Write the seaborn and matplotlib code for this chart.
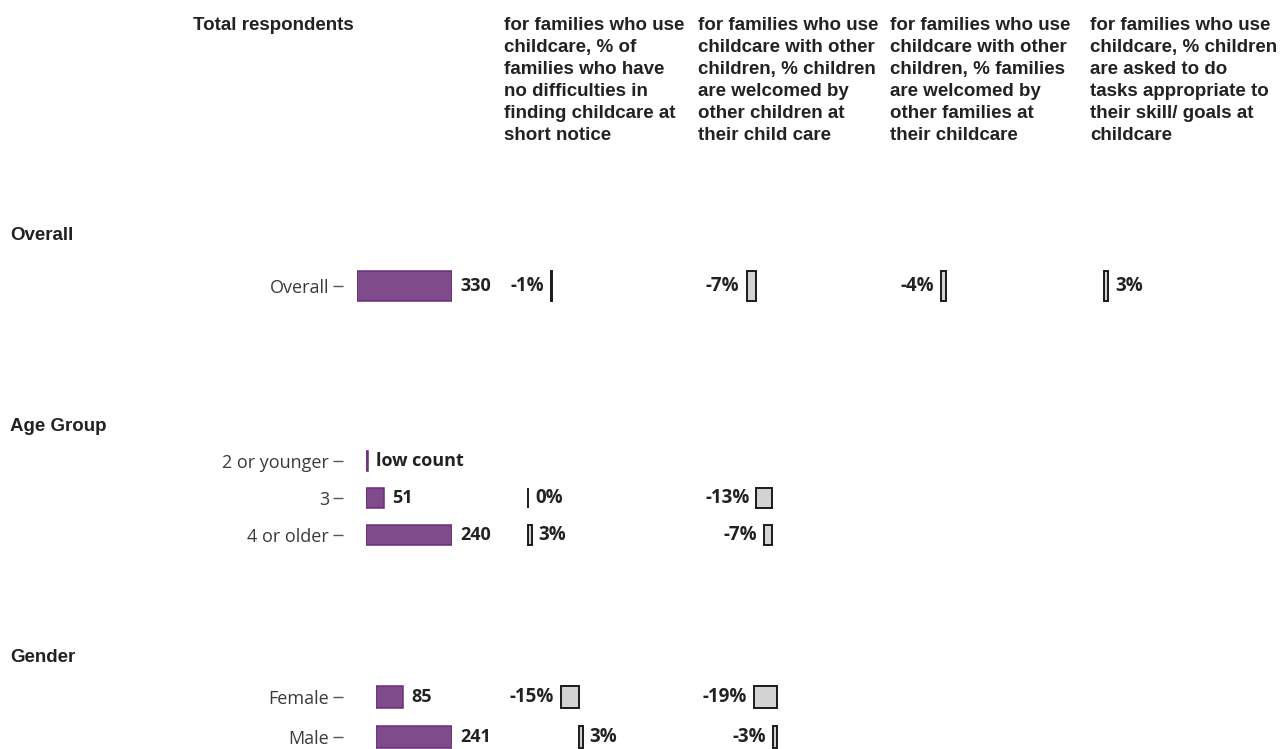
import numpy as np
import pandas as pd
import seaborn as sns
import matplotlib.pyplot as plt

# ---- data ----
group_names = ["Overall", "Age Group", "Gender"]
rows_overall = ["Overall"]
rows_age = ["2 or younger", "3", "4 or older"]
rows_gender = ["Female", "Male"]

total_overall = [330]
total_age = [5, 51, 240]
total_gender = [85, 241]
total_labels_overall = ["330"]
total_labels_age = ["low count", "51", "240"]
total_labels_gender = ["85", "241"]

short_notice_overall = [-1]
short_notice_age = [np.nan, 0, 3]
short_notice_gender = [-15, 3]

welcomed_children_overall = [-7]
welcomed_children_age = [np.nan, -13, -7]
welcomed_children_gender = [-19, -3]

welcomed_families_overall = [-4]
skill_tasks_overall = [3]

headers = [
    "for families who use\nchildcare, % of\nfamilies who have\nno difficulties in\nfinding childcare at\nshort notice",
    "for families who use\nchildcare with other\nchildren, % children\nare welcomed by\nother children at\ntheir child care",
    "for families who use\nchildcare with other\nchildren, % families\nare welcomed by\nother families at\ntheir childcare",
    "for families who use\nchildcare, % children\nare asked to do\ntasks appropriate to\ntheir skill/ goals at\nchildcare",
]

groups = [
    dict(name="Overall", rows=rows_overall, total=total_overall, total_labels=total_labels_overall,
         cols=[short_notice_overall, welcomed_children_overall, welcomed_families_overall, skill_tasks_overall]),
    dict(name="Age Group", rows=rows_age, total=total_age, total_labels=total_labels_age,
         cols=[short_notice_age, welcomed_children_age, None, None]),
    dict(name="Gender", rows=rows_gender, total=total_gender, total_labels=total_labels_gender,
         cols=[short_notice_gender, welcomed_children_gender, None, None]),
]

# ---- layout (pixels) ----
W, H = 1286, 749
layout = [
    dict(head_y=235, first_y=286, band=55, x0=357, scale=1.35, zeros=[552, 756, 946, 1104]),
    dict(head_y=426, first_y=461, band=37, x0=366, scale=1.2, zeros=[528, 772, None, None]),
    dict(head_y=658, first_y=697, band=40, x0=376, scale=1.2, zeros=[579, 777, None, None]),
]
bar_end = 452
tick_x = 343
col_x = [504, 698, 890, 1090]

purple = "#7f4b8a"
purple_edge = "#6b2d7b"
grey = "#d3d3d3"
head_font = "Liberation Sans"

sns.set_theme(style="white")
plt.rcParams["font.family"] = ["Open Sans", "DejaVu Sans"]

fig = plt.figure(figsize=(W / 100, H / 100), dpi=100)


def px_axes(left, top, width, height):
    return fig.add_axes([left / W, 1 - (top + height) / H, width / W, height / H])


fig.text(193 / W, 1 - 17 / H, "Total respondents", ha="left", va="top",
         fontsize=13.5, fontweight="bold", family=head_font, color="#222222")
for x, txt in zip(col_x, headers):
    fig.text(x / W, 1 - 17 / H, txt, ha="left", va="top", fontsize=13.5,
             fontweight="bold", family=head_font, color="#222222", linespacing=1.38)

for g, lay in zip(groups, layout):
    n = len(g["rows"])
    top = lay["first_y"] - lay["band"] / 2
    height = n * lay["band"]

    fig.text(10 / W, 1 - lay["head_y"] / H, g["name"], ha="left", va="center",
             fontsize=13.5, fontweight="bold", family=head_font, color="#222222")

    # total respondents bars
    ax = px_axes(lay["x0"], top, bar_end - lay["x0"], height)
    df = pd.DataFrame({"row": g["rows"], "value": g["total"]})
    sns.barplot(data=df, x="value", y="row", order=g["rows"], orient="h", color=purple,
                saturation=1, width=0.55, edgecolor=purple_edge, linewidth=1.1,
                errorbar=None, ax=ax)
    ax.set_xlim(0, max(g["total"]))
    ax.set_ylim(n - 0.5, -0.5)
    ax.set_facecolor("none")
    for s in ax.spines.values():
        s.set_visible(False)
    ax.spines["left"].set_position(("outward", (lay["x0"] - tick_x) * 0.72))
    ax.set_xticks([])
    ax.set_xlabel("")
    ax.set_ylabel("")
    ax.tick_params(axis="y", left=True, length=7, width=1, color="#555555",
                   pad=3, labelsize=13, labelcolor="#3a3a3a")
    ax.bar_label(ax.containers[0], labels=g["total_labels"], padding=6,
                 fontsize=13, fontweight="bold", color="#222222")

    # diverging % columns
    for vals, zero in zip(g["cols"], lay["zeros"]):
        if vals is None:
            continue
        span = 250
        axd = px_axes(zero - span, top, 2 * span, height)
        dfd = pd.DataFrame({"row": g["rows"], "value": vals}).dropna()
        sns.barplot(data=dfd, x="value", y="row", order=g["rows"], orient="h", color=grey,
                    saturation=1, width=0.55, edgecolor="#1a1a1a", linewidth=1.4,
                    errorbar=None, ax=axd)
        axd.set_xlim(-span / lay["scale"], span / lay["scale"])
        axd.set_ylim(n - 0.5, -0.5)
        axd.axis("off")
        axd.bar_label(axd.containers[0], labels=[f"{v:.0f}%" for v in dfd["value"]],
                      padding=5, fontsize=13.5, fontweight="bold", color="#222222")

fig.savefig("out.png", dpi=100)
